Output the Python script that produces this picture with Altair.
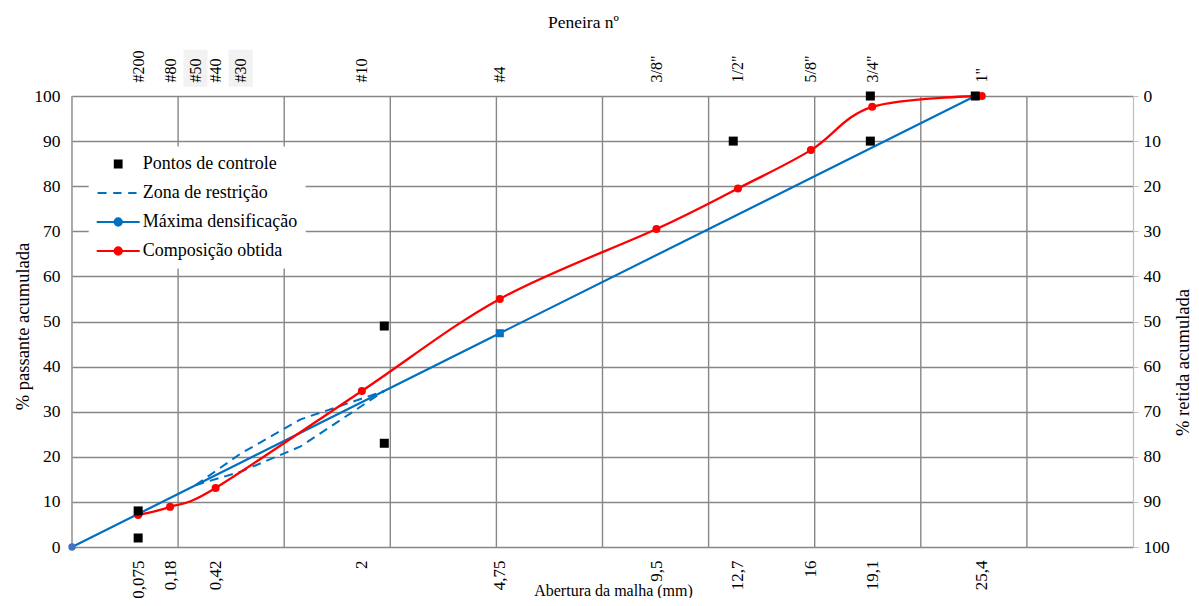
import json
import altair as alt
import pandas as pd

# ---------------- data ----------------
RED_MM = [0.075, 0.18, 0.42, 2.0, 4.75, 9.5, 12.7, 16.0, 19.1, 25.4]
RED_P = [7.1, 8.9, 13.1, 34.6, 55.0, 70.5, 79.5, 88.0, 97.6, 100.0]

MD_MM = [0.0, 4.75, 25.0]
MD_P = [0.0, 47.4, 100.0]

CTRL_MM = [0.075, 0.075, 2.36, 2.36, 12.5, 19.0, 19.0, 25.0]
CTRL_P = [2, 8, 23, 49, 90, 90, 100, 100]

ZONE_MM = [0.3, 0.6, 1.18, 2.36]
ZONE_UP = [13.7, 20.7, 28.3, 34.6]
ZONE_LO = [13.7, 16.7, 22.3, 34.6]

BOTTOM_MM = [0.075, 0.18, 0.42, 2, 4.75, 9.5, 12.7, 16, 19.1, 25.4]
BOTTOM_LABELS = ["0,075", "0,18", "0,42", "2", "4,75", "9,5", "12,7", "16", "19,1", "25,4"]
TOP_MM = [0.075, 0.18, 0.3, 0.42, 0.6, 2, 4.75, 9.5, 12.7, 16, 19.1, 25.4]
TOP_LABELS = ["#200", "#80", "#50", "#40", "#30", "#10", "#4", '3/8"', '1/2"', '5/8"', '3/4"', '1"']
SHADED_MM = [0.3, 0.6]
Y_TICKS = list(range(0, 101, 10))

LEG_NAMES = ["Pontos de controle", "Zona de restrição", "Máxima densificação", "Composição obtida"]
LEG_COLORS = ["#000000", "#0070C0", "#0070C0", "#FF0000"]
LEG_SHAPES = [
    "M-0.4,-0.4H0.4V0.4H-0.4Z",
    "M-2.43,0H-1.37M-0.59,0H0.39M1.18,0H2.16",
    "M-2.53,0H2.53M0.43,0A0.43,0.43,0,1,1,-0.43,0A0.43,0.43,0,1,1,0.43,0Z",
    "M-2.53,0H2.53M0.43,0A0.43,0.43,0,1,1,-0.43,0A0.43,0.43,0,1,1,0.43,0Z",
]

EXP = 0.45
X_MAX = 5 ** (1 / EXP)
GRID_MM = [(0.5 * k) ** (1 / EXP) for k in range(10)]

FONT = "Liberation Serif, Times New Roman, Times, serif"
GRID_COLOR = "#878787"

# ---------------- tables ----------------
red_df = pd.DataFrame({"mm": RED_MM, "p": RED_P})
md_df = pd.DataFrame({"mm": MD_MM, "p": MD_P})
ctrl_df = pd.DataFrame({"mm": CTRL_MM, "p": CTRL_P})
zone_df = pd.concat([
    pd.DataFrame({"mm": ZONE_MM, "p": ZONE_UP, "b": "sup"}),
    pd.DataFrame({"mm": ZONE_MM, "p": ZONE_LO, "b": "inf"}),
])
grid_df = pd.DataFrame({"mm": GRID_MM})
shade_df = pd.DataFrame({"mm": SHADED_MM})
leg_df = pd.DataFrame({"serie": LEG_NAMES})

X_SCALE = alt.Scale(type="pow", exponent=EXP, domain=[0, X_MAX], nice=False, zero=True)

bottom_expr = f"{json.dumps(BOTTOM_LABELS)}[indexof({json.dumps(BOTTOM_MM)}, datum.value)]"
top_expr = f"{json.dumps(TOP_LABELS)}[indexof({json.dumps(TOP_MM)}, datum.value)]"

common = dict(labelFont=FONT, titleFont=FONT, labelColor="#000000", titleColor="#000000",
              titleFontWeight="normal")

bottom_axis = alt.Axis(
    values=BOTTOM_MM, labelExpr=bottom_expr, labelAngle=270, grid=False, ticks=False,
    domain=False, labelPadding=13, labelFontSize=17, title="Abertura da malha (mm)",
    titleX=541, titleY=48, titleBaseline="alphabetic", titleAlign="center", titleFontSize=16,
    **common,
)
left_axis = alt.Axis(
    values=Y_TICKS, grid=True, gridColor=GRID_COLOR, gridWidth=1.4, ticks=False, domain=False,
    labelPadding=12, labelFontSize=17.5, title="% passante acumulada", titleFontSize=18.5,
    titleX=-50, titleY=230, titleAngle=270, titleBaseline="middle", titleAlign="center",
    **common,
)
top_axis = alt.Axis(
    orient="top", values=TOP_MM, labelExpr=top_expr, labelAngle=270, grid=False, ticks=False,
    domain=False, labelPadding=14, labelFontSize=16, title="Peneira nº", titleFontSize=17.5,
    titleX=511, titleY=-69, titleBaseline="alphabetic", titleAlign="center", zindex=1,
    **common,
)
right_axis = alt.Axis(
    orient="right", values=Y_TICKS, grid=False, ticks=True, tickColor="#bfbfbf", tickSize=5,
    domain=True, domainColor="#bfbfbf", domainWidth=1.2, labelPadding=5, labelFontSize=17.5,
    title="% retida acumulada", titleFontSize=18.5, titleX=49, titleY=266, titleAngle=270,
    titleBaseline="middle", titleAlign="center",
    **common,
)

X_B = alt.X("mm:Q", scale=X_SCALE, axis=bottom_axis)
Y_L = alt.Y("p:Q", scale=alt.Scale(domain=[0, 100], nice=False), axis=left_axis)

grid = alt.Chart(grid_df).mark_rule(color=GRID_COLOR, strokeWidth=1.4).encode(x=X_B)

shade = alt.Chart(shade_df).mark_point(
    shape="M-0.65,-1H0.65V1H-0.65Z", size=1369, filled=True, color="#f2f2f2", opacity=1
).encode(x=X_B, y=alt.value(-27.7))

zone = alt.Chart(zone_df).mark_line(color="#0070C0", strokeWidth=2, strokeDash=[9, 6]).encode(
    x=X_B, y=Y_L, detail="b:N", order="mm:Q"
)

md_line = alt.Chart(md_df).mark_line(color="#0070C0", strokeWidth=2.2).encode(x=X_B, y=Y_L)
md_circle = alt.Chart(md_df.iloc[[0]]).mark_point(
    shape="circle", filled=True, color="#4472C4", size=55, opacity=1
).encode(x=X_B, y=Y_L)
md_square = alt.Chart(md_df.iloc[[1]]).mark_point(
    shape="square", filled=True, color="#0070C0", size=64, opacity=1
).encode(x=X_B, y=Y_L)

red_line = alt.Chart(red_df).mark_line(
    color="#FF0000", strokeWidth=2.3, interpolate="cardinal", tension=0
).encode(x=X_B, y=Y_L)
red_pts = alt.Chart(red_df).mark_point(
    shape="circle", filled=True, color="#FF0000", size=64, opacity=1
).encode(x=X_B, y=Y_L)

ctrl = alt.Chart(ctrl_df).mark_point(
    shape="square", filled=True, color="#000000", size=81, opacity=1
).encode(x=X_B, y=Y_L)

leg_color = alt.Scale(domain=LEG_NAMES, range=LEG_COLORS)
legend = alt.Legend(
    orient="none", legendX=16.7, legendY=50.5, title=None, fillColor="white", padding=8,
    labelFont=FONT, labelFontSize=18, labelColor="#000000", labelLimit=0,
    symbolSize=289, symbolStrokeWidth=2, rowPadding=10, symbolOffset=12, labelOffset=15,
    symbolOpacity=1,
)
leg = alt.Chart(leg_df).mark_point(filled=False, size=0, opacity=1).encode(
    x=alt.value(-300), y=alt.value(-300),
    fill=alt.Fill("serie:N", scale=leg_color, legend=legend),
    stroke=alt.Stroke("serie:N", scale=leg_color, legend=legend),
    shape=alt.Shape("serie:N", scale=alt.Scale(domain=LEG_NAMES, range=LEG_SHAPES), legend=legend),
)

main = alt.layer(grid, shade, zone, md_line, md_circle, md_square, red_line, red_pts, ctrl, leg)

top = alt.Chart(red_df).transform_calculate(ret="100 - datum.p").mark_point(opacity=0).encode(
    x=alt.X("mm:Q", scale=X_SCALE, axis=top_axis),
    y=alt.Y("ret:Q", scale=alt.Scale(domain=[0, 100], reverse=True, nice=False), axis=right_axis),
)

chart = alt.layer(main, top).resolve_scale(x="independent", y="independent").properties(
    width=1061, height=451,
    autosize=alt.AutoSizeParams(type="none"),
    padding={"left": 64, "top": 88, "right": 58, "bottom": 51},
).configure_axis(
    labelFont=FONT, titleFont=FONT, labelColor="#000000", titleColor="#000000",
    titleFontWeight="normal",
).configure_view(stroke=None).configure_legend(labelFont=FONT)

chart.save("out.html", embed_options={"renderer": "svg", "actions": False})
